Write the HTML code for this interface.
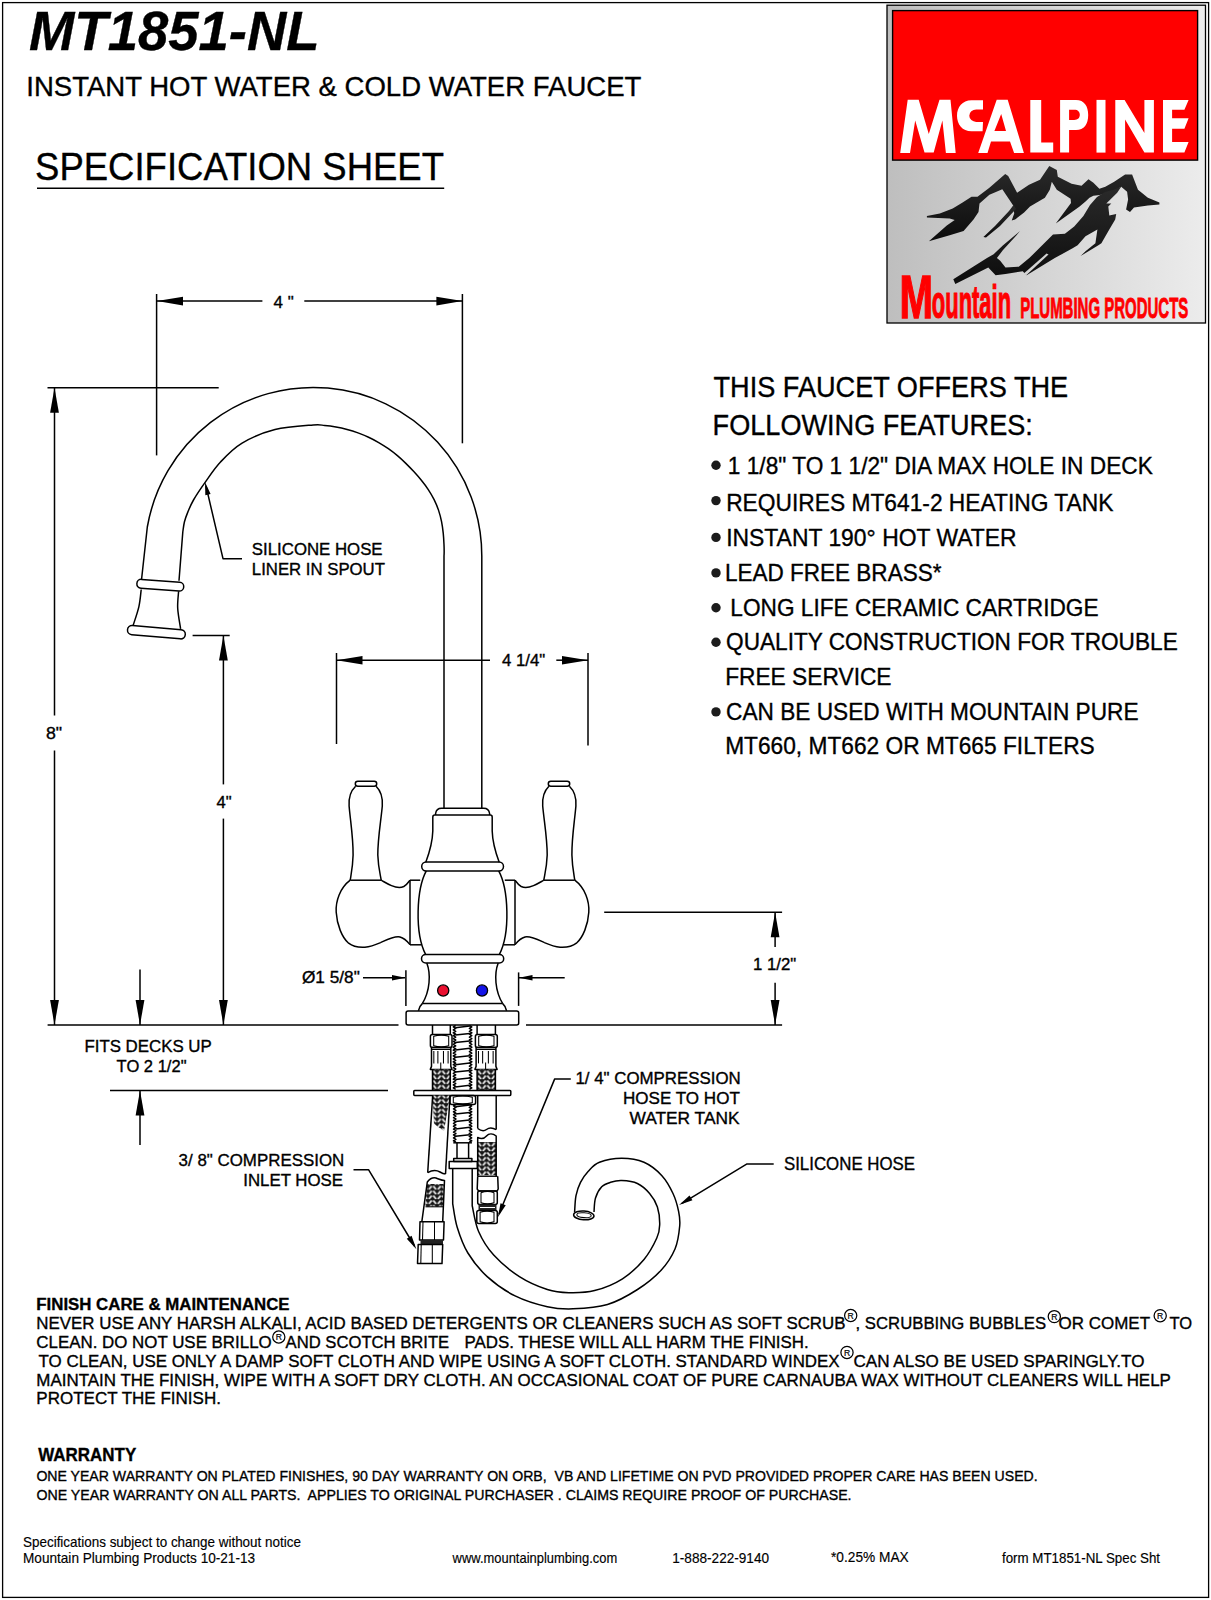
<!DOCTYPE html>
<html><head><meta charset="utf-8"><title>MT1851-NL Specification Sheet</title>
<style> html,body{margin:0;padding:0;background:#fff;width:1211px;height:1600px;overflow:hidden} svg{display:block} text{font-family:"Liberation Sans",sans-serif}</style>
</head><body>
<svg width="1211" height="1600" viewBox="0 0 1211 1600">
<defs>
<linearGradient id="lg" gradientUnits="userSpaceOnUse" x1="887" y1="0" x2="1205" y2="0"><stop offset="0" stop-color="#bebebe"/><stop offset="1" stop-color="#ececec"/></linearGradient>
<linearGradient id="mg" x1="0" y1="0" x2="0" y2="1"><stop offset="0" stop-color="#2a2a2a"/><stop offset="1" stop-color="#0c0c0c"/></linearGradient>
<pattern id="braid" patternUnits="userSpaceOnUse" width="9" height="4.8" x="0.5" y="0">
<rect width="9" height="4.8" fill="#161616"/>
<path d="M 0.8 0.5 L 3.6 3.9 M 5.4 3.9 L 8.2 0.5" stroke="#fff" stroke-width="1.65" fill="none" stroke-linecap="butt"/>
</pattern>
</defs>
<rect width="1211" height="1600" fill="#fff"/>
<rect x="2.6" y="2.6" width="1206" height="1594.8" fill="none" stroke="#000" stroke-width="1.3"/>
<line x1="37" y1="188.3" x2="444.2" y2="188.3" stroke="#000" stroke-width="1.5"/>
<rect x="887" y="5.2" width="318.5" height="317.8" fill="url(#lg)" stroke="#000" stroke-width="1.3"/>
<rect x="892.6" y="10.6" width="305" height="149.5" fill="#ff0000" stroke="#000" stroke-width="1.4"/>
<polygon fill="#fff" stroke="none" points="900.2,153 907.7,99.8 918.7,99.8 928.8,133.9 939.5,99.8 950.5,99.8 955.7,153 945.9,153 942.4,120.6 933.7,152.4 924.5,152.4 915.2,120.6 910,153"/>
<path fill="#fff" stroke="none" d="M 983 100.3 L 971.5 100.3 C 962.3 100.3 957 107.2 957 115.75 C 957 124.3 962.3 131.3 971.5 131.3 L 982.6 131.3 L 983 121.9 L 976.2 121.9 A 6.9 6.2 0 0 1 976.2 109.5 L 983 109.5 Z"/>
<path fill="#fff" stroke="none" fill-rule="evenodd" d="M 978.2,153 996.7,99.8 1007.7,99.8 1023.9,153 1014.1,153 1010,141.5 991,141.5 987.5,153 Z M 994.4,131 1006,131 1001.2,114 Z"/>
<polygon fill="#fff" stroke="none" points="1030.3,99.9 1041.2,99.9 1041.2,142.6 1053.2,142.6 1053.2,152.6 1030.3,152.6"/>
<path fill="#fff" stroke="none" fill-rule="evenodd" d="M 1060.1 99.9 L 1076 99.9 C 1084.2 99.9 1088.2 106 1088.2 115 C 1088.2 124 1084.2 130 1076 130 L 1069.1 130 L 1069.1 152.6 L 1060.1 152.6 Z M 1069.1 109.7 L 1074.2 109.7 C 1078 109.7 1079.8 111.8 1079.8 114.8 C 1079.8 117.8 1078 119.9 1074.2 119.9 L 1069.1 119.9 Z"/>
<rect fill="#fff" stroke="none" x="1096.5" y="99.9" width="9" height="52.7"/>
<polygon fill="#fff" stroke="none" points="1115.3,152.6 1115.3,99.9 1124.6,99.9 1144.4,132.9 1144.4,99.9 1153.9,99.9 1153.9,152.6 1144.4,152.6 1125.1,119.6 1125.1,152.6"/>
<polygon fill="#fff" stroke="none" points="1163,99.9 1188.6,99.9 1184.4,109.7 1172.1,109.7 1172.1,118.2 1188.6,118.2 1184.4,128.7 1172.1,128.7 1172.1,142 1188.6,142 1184.4,152.6 1163,152.6"/>
<polygon fill="url(#mg)" stroke="none" points="926.9,216 939.8,213.5 952.7,208.6 962.6,202.6 971.5,196.7 977.5,196.7 989.4,187.8 1005.2,173.9 1008.2,175.9 1017.1,192.7 1029,184.8 1040,179.8 1049.3,165.9 1056.8,169.9 1057.8,176.8 1071.6,183.8 1081.5,185.8 1088.5,179.3 1093.4,182.8 1099.4,188.7 1105.3,186.8 1114.2,181.8 1125.1,174.4 1132.1,174.4 1138,189.7 1147.9,197.7 1159.4,202.6 1159.4,204.5 1147.9,205.5 1134,207.6 1130,211.9 1126.1,209.5 1128.1,199.6 1127.1,191.7 1121.2,186.8 1113,192 1100,195 1093.4,195.7 1089.5,197.7 1085.5,201.6 1079.6,206.6 1055.8,223.4 1071,203 1070.6,198.7 1056.8,189.7 1051.8,181.8 1049.8,189.7 1044.9,197.7 1030,206.6 1024.1,212.5 1015.1,219.5 1011.7,220.5 1014.2,213.5 1013.2,205.6 1002.3,189.2 995.3,192.2 989.4,194.7 979.5,203.6 978.5,212 973.5,219.5 963.6,230.9 949.7,235.3 928.9,241.3 946.8,225.4 954.7,220 949.7,218.5 926.9,217.5"/>
<polygon fill="url(#mg)" stroke="none" points="953.3,279.3 987,258.1 993.6,254.2 1002.8,245.6 1020,231 1016.1,235.7 1002.8,250.2 996.9,258.1 1000.2,260.8 1005.5,267.4 1018.7,266.7 1029.3,258.1 1053,234.4 1064.9,233.7 1074.2,226.4 1083.4,215.9 1090,205 1097,197 1105,192 1113,190 1121.2,186.8 1117.2,192.7 1106.3,203.6 1111.3,203.6 1108.3,206.6 1109.3,215.5 1116.2,214 1115.2,219.5 1109.3,229.4 1101.4,243.2 1098.4,245.2 1080.5,256.1 1085.5,251.2 1095.4,243.2 1097.4,229.4 1085.5,236.3 1077.6,245.2 1072.6,248.2 1054.8,258.1 1026.6,275.3 1022.7,271.3 1005.5,274 995.6,275.3 988.3,267.4 955.3,283.9"/>
<polygon fill="url(#mg)" stroke="none" points="983.4,237 995,226 1009,211 1013.5,205 1016,209 1000,226 986,237.5"/>
<polygon fill="url(#lg)" stroke="none" points="1023.8,273.6 1046.5,253.6 1048.5,254.6 1026.2,275.2"/>
<g font-family="Liberation Sans, sans-serif" fill="#000" stroke="#000" stroke-width="0.35">
<text x="29" y="50" font-size="54.67" font-weight="bold" font-style="italic" textLength="290.55" lengthAdjust="spacingAndGlyphs" xml:space="preserve">MT1851-NL</text>
<text x="26.29" y="95.7" font-size="28.44" textLength="615.14" lengthAdjust="spacingAndGlyphs" xml:space="preserve">INSTANT HOT WATER &amp; COLD WATER FAUCET</text>
<text x="35.08" y="180.2" font-size="37.93" textLength="408.91" lengthAdjust="spacingAndGlyphs" xml:space="preserve">SPECIFICATION SHEET</text>
<text x="713.55" y="396.6" font-size="28.59" textLength="354.6" lengthAdjust="spacingAndGlyphs" xml:space="preserve">THIS FAUCET OFFERS THE</text>
<text x="712.6" y="435.4" font-size="28.59" textLength="320.25" lengthAdjust="spacingAndGlyphs" xml:space="preserve">FOLLOWING FEATURES:</text>
<text x="727.84" y="473.5" font-size="24.44" textLength="424.95" lengthAdjust="spacingAndGlyphs" xml:space="preserve">1 1/8&quot; TO 1 1/2&quot; DIA MAX HOLE IN DECK</text>
<text x="726.14" y="510.7" font-size="24.44" textLength="387.26" lengthAdjust="spacingAndGlyphs" xml:space="preserve">REQUIRES MT641-2 HEATING TANK</text>
<text x="726.13" y="545.8" font-size="24.44" textLength="290.48" lengthAdjust="spacingAndGlyphs" xml:space="preserve">INSTANT 190° HOT WATER</text>
<text x="724.96" y="581" font-size="24.44" textLength="216.5" lengthAdjust="spacingAndGlyphs" xml:space="preserve">LEAD FREE BRASS*</text>
<text x="730.35" y="616" font-size="24.44" textLength="368.16" lengthAdjust="spacingAndGlyphs" xml:space="preserve">LONG LIFE CERAMIC CARTRIDGE</text>
<text x="726.07" y="650.3" font-size="24.44" textLength="451.66" lengthAdjust="spacingAndGlyphs" xml:space="preserve">QUALITY CONSTRUCTION FOR TROUBLE</text>
<text x="725.14" y="685" font-size="24.44" textLength="166.42" lengthAdjust="spacingAndGlyphs" xml:space="preserve">FREE SERVICE</text>
<text x="726.07" y="720.1" font-size="24.44" textLength="412.44" lengthAdjust="spacingAndGlyphs" xml:space="preserve">CAN BE USED WITH MOUNTAIN PURE</text>
<text x="725.14" y="754.4" font-size="24.44" textLength="369.58" lengthAdjust="spacingAndGlyphs" xml:space="preserve">MT660, MT662 OR MT665 FILTERS</text>
<text x="273.6" y="307.5" font-size="17.19" textLength="20.13" lengthAdjust="spacingAndGlyphs" xml:space="preserve">4 &quot;</text>
<text x="251.89" y="554.6" font-size="16.59" textLength="130.7" lengthAdjust="spacingAndGlyphs" xml:space="preserve">SILICONE HOSE</text>
<text x="251.89" y="575.2" font-size="16.59" textLength="133.05" lengthAdjust="spacingAndGlyphs" xml:space="preserve">LINER IN SPOUT</text>
<text x="502" y="666.2" font-size="16.59" textLength="43.27" lengthAdjust="spacingAndGlyphs" xml:space="preserve">4 1/4&quot;</text>
<text x="45.93" y="738.5" font-size="16.59" textLength="16.19" lengthAdjust="spacingAndGlyphs" xml:space="preserve">8&quot;</text>
<text x="216.5" y="807.5" font-size="16.59" textLength="15.11" lengthAdjust="spacingAndGlyphs" xml:space="preserve">4&quot;</text>
<text x="301.96" y="983" font-size="16.59" textLength="57.82" lengthAdjust="spacingAndGlyphs" xml:space="preserve">Ø1 5/8&quot;</text>
<text x="753.09" y="970.4" font-size="16.59" textLength="43.18" lengthAdjust="spacingAndGlyphs" xml:space="preserve">1 1/2&quot;</text>
<text x="84.41" y="1052" font-size="17.04" textLength="127.39" lengthAdjust="spacingAndGlyphs" xml:space="preserve">FITS DECKS UP</text>
<text x="116.6" y="1072.1" font-size="17.04" textLength="69.92" lengthAdjust="spacingAndGlyphs" xml:space="preserve">TO 2 1/2&quot;</text>
<text x="575.48" y="1084.4" font-size="16.59" textLength="165.24" lengthAdjust="spacingAndGlyphs" xml:space="preserve">1/ 4&quot; COMPRESSION</text>
<text x="622.97" y="1104.2" font-size="16.59" textLength="116.87" lengthAdjust="spacingAndGlyphs" xml:space="preserve">HOSE TO HOT</text>
<text x="629.5" y="1124" font-size="16.59" textLength="110.03" lengthAdjust="spacingAndGlyphs" xml:space="preserve">WATER TANK</text>
<text x="178.62" y="1166.1" font-size="17.19" textLength="165.63" lengthAdjust="spacingAndGlyphs" xml:space="preserve">3/ 8&quot; COMPRESSION</text>
<text x="243.28" y="1186.2" font-size="16.59" textLength="99.8" lengthAdjust="spacingAndGlyphs" xml:space="preserve">INLET HOSE</text>
<text x="783.94" y="1170.1" font-size="17.48" textLength="131.14" lengthAdjust="spacingAndGlyphs" xml:space="preserve">SILICONE HOSE</text>
<text x="36.32" y="1309.8" font-size="17.19" font-weight="bold" textLength="253.24" lengthAdjust="spacingAndGlyphs" xml:space="preserve">FINISH CARE &amp; MAINTENANCE</text>
<text x="38.3" y="1460.7" font-size="17.63" font-weight="bold" textLength="97.92" lengthAdjust="spacingAndGlyphs" xml:space="preserve">WARRANTY</text>
<text x="36.38" y="1480.5" font-size="15.41" textLength="1001.28" lengthAdjust="spacingAndGlyphs" xml:space="preserve">ONE YEAR WARRANTY ON PLATED FINISHES, 90 DAY WARRANTY ON ORB,  VB AND LIFETIME ON PVD PROVIDED PROPER CARE HAS BEEN USED.</text>
<text x="36.38" y="1500.4" font-size="15.41" textLength="815.16" lengthAdjust="spacingAndGlyphs" xml:space="preserve">ONE YEAR WARRANTY ON ALL PARTS.  APPLIES TO ORIGINAL PURCHASER . CLAIMS REQUIRE PROOF OF PURCHASE.</text>
<text x="23.03" y="1547" font-size="13.93" stroke-width="0.15" textLength="277.87" lengthAdjust="spacingAndGlyphs" xml:space="preserve">Specifications subject to change without notice</text>
<text x="23.02" y="1562.8" font-size="13.93" stroke-width="0.15" textLength="232.06" lengthAdjust="spacingAndGlyphs" xml:space="preserve">Mountain Plumbing Products 10-21-13</text>
<text x="452.6" y="1563" font-size="13.93" stroke-width="0.15" textLength="164.62" lengthAdjust="spacingAndGlyphs" xml:space="preserve">www.mountainplumbing.com</text>
<text x="672.22" y="1563" font-size="13.93" stroke-width="0.15" textLength="96.85" lengthAdjust="spacingAndGlyphs" xml:space="preserve">1-888-222-9140</text>
<text x="831.02" y="1561.8" font-size="13.93" stroke-width="0.15" textLength="77.72" lengthAdjust="spacingAndGlyphs" xml:space="preserve">*0.25% MAX</text>
<text x="1002" y="1563" font-size="13.93" stroke-width="0.15" textLength="158.07" lengthAdjust="spacingAndGlyphs" xml:space="preserve">form MT1851-NL Spec Sht</text>
<text x="899.59" y="318.2" font-size="61.48" font-weight="bold" textLength="33.47" lengthAdjust="spacingAndGlyphs" xml:space="preserve" fill="#f00" stroke="#f00" stroke-width="1.4">M</text>
<text x="931.85" y="318.2" font-size="46.22" font-weight="bold" textLength="79.21" lengthAdjust="spacingAndGlyphs" xml:space="preserve" fill="#f00" stroke="#f00" stroke-width="1.2">ountain</text>
<text x="1020.18" y="318.2" font-size="29.33" font-weight="bold" textLength="168.1" lengthAdjust="spacingAndGlyphs" xml:space="preserve" fill="#f00" stroke="#f00" stroke-width="0.9">PLUMBING PRODUCTS</text>
<text x="36.32" y="1328.9" font-size="17.19" textLength="809.21" lengthAdjust="spacingAndGlyphs" xml:space="preserve">NEVER USE ANY HARSH ALKALI, ACID BASED DETERGENTS OR CLEANERS SUCH AS SOFT SCRUB</text>
<text x="855.55" y="1328.9" font-size="17.19" textLength="190.54" lengthAdjust="spacingAndGlyphs" xml:space="preserve">, SCRUBBING BUBBLES</text>
<text x="1058.61" y="1328.9" font-size="17.19" textLength="91.4" lengthAdjust="spacingAndGlyphs" xml:space="preserve">OR COMET</text>
<text x="1169.5" y="1328.9" font-size="17.19" textLength="22.64" lengthAdjust="spacingAndGlyphs" xml:space="preserve">TO</text>
<text x="36.32" y="1347.7" font-size="17.19" textLength="235.4" lengthAdjust="spacingAndGlyphs" xml:space="preserve">CLEAN. DO NOT USE BRILLO</text>
<text x="285.6" y="1347.7" font-size="17.19" textLength="163.6" lengthAdjust="spacingAndGlyphs" xml:space="preserve">AND SCOTCH BRITE</text>
<text x="464.52" y="1347.7" font-size="17.19" textLength="344.17" lengthAdjust="spacingAndGlyphs" xml:space="preserve">PADS. THESE WILL ALL HARM THE FINISH.</text>
<text x="38.6" y="1366.8" font-size="17.19" textLength="801.04" lengthAdjust="spacingAndGlyphs" xml:space="preserve">TO CLEAN, USE ONLY A DAMP SOFT CLOTH AND WIPE USING A SOFT CLOTH. STANDARD WINDEX</text>
<text x="853.41" y="1366.8" font-size="17.19" textLength="291.02" lengthAdjust="spacingAndGlyphs" xml:space="preserve">CAN ALSO BE USED SPARINGLY.TO</text>
<text x="36.31" y="1385.6" font-size="17.19" textLength="1134.59" lengthAdjust="spacingAndGlyphs" xml:space="preserve">MAINTAIN THE FINISH, WIPE WITH A SOFT DRY CLOTH. AN OCCASIONAL COAT OF PURE CARNAUBA WAX WITHOUT CLEANERS WILL HELP</text>
<text x="36.31" y="1404.4" font-size="17.19" textLength="184.62" lengthAdjust="spacingAndGlyphs" xml:space="preserve">PROTECT THE FINISH.</text>
</g>
<circle cx="716" cy="465.3" r="4.7" fill="#1c1c1c"/>
<circle cx="716" cy="500.6" r="4.7" fill="#1c1c1c"/>
<circle cx="716" cy="537.4" r="4.7" fill="#1c1c1c"/>
<circle cx="716" cy="572.9" r="4.7" fill="#1c1c1c"/>
<circle cx="716" cy="607.8" r="4.7" fill="#1c1c1c"/>
<circle cx="716" cy="642.2" r="4.7" fill="#1c1c1c"/>
<circle cx="716" cy="711.9" r="4.7" fill="#1c1c1c"/>
<circle cx="850.7" cy="1315.5" r="6.1" fill="none" stroke="#000" stroke-width="1.25"/><text x="850.7" y="1318.6" font-size="8.6" text-anchor="middle" font-family="Liberation Sans, sans-serif" stroke="#000" stroke-width="0.2">R</text>
<circle cx="1054.3" cy="1316.6" r="6.1" fill="none" stroke="#000" stroke-width="1.25"/><text x="1054.3" y="1319.6999999999998" font-size="8.6" text-anchor="middle" font-family="Liberation Sans, sans-serif" stroke="#000" stroke-width="0.2">R</text>
<circle cx="1160.2" cy="1315.7" r="6.1" fill="none" stroke="#000" stroke-width="1.25"/><text x="1160.2" y="1318.8" font-size="8.6" text-anchor="middle" font-family="Liberation Sans, sans-serif" stroke="#000" stroke-width="0.2">R</text>
<circle cx="278.8" cy="1337" r="6.1" fill="none" stroke="#000" stroke-width="1.25"/><text x="278.8" y="1340.1" font-size="8.6" text-anchor="middle" font-family="Liberation Sans, sans-serif" stroke="#000" stroke-width="0.2">R</text>
<circle cx="847" cy="1352.4" r="6.1" fill="none" stroke="#000" stroke-width="1.25"/><text x="847" y="1355.5" font-size="8.6" text-anchor="middle" font-family="Liberation Sans, sans-serif" stroke="#000" stroke-width="0.2">R</text>
<g fill="none" stroke="#000" stroke-width="1.5" stroke-linejoin="round" stroke-linecap="butt">
<style>.f{fill:#000;stroke:none} .thin{stroke-width:1.05} .th{stroke-width:1.1} .wl{stroke:#fff;stroke-width:1}</style>
<line x1="156.6" y1="294" x2="156.6" y2="455.4"/>
<line x1="462.4" y1="294" x2="462.4" y2="443.3"/>
<line x1="157" y1="301.1" x2="262.4" y2="301.1"/>
<line x1="304.3" y1="301.1" x2="462.4" y2="301.1"/>
<polygon class="f" points="157,301.1 183,296.8 183,305.4"/>
<polygon class="f" points="462.4,301.1 436.4,305.4 436.4,296.8"/>
<line x1="47.5" y1="387.8" x2="218.7" y2="387.8"/>
<line x1="54.5" y1="387.8" x2="54.5" y2="715.4"/>
<line x1="54.5" y1="750.5" x2="54.5" y2="1025"/>
<polygon class="f" points="54.5,387.8 58.9,412.8 50.1,412.8"/>
<polygon class="f" points="54.5,1025 50.1,1000 58.9,1000"/>
<line x1="47.6" y1="1025" x2="398.5" y2="1025"/>
<line x1="526" y1="1025" x2="782.1" y2="1025"/>
<line x1="192.6" y1="635.5" x2="229.7" y2="635.5"/>
<line x1="223.4" y1="635.5" x2="223.4" y2="784.4"/>
<line x1="223.4" y1="818.6" x2="223.4" y2="1025"/>
<polygon class="f" points="223.4,635.5 227.8,660.5 219,660.5"/>
<polygon class="f" points="223.4,1025 219,1000 227.8,1000"/>
<line x1="140" y1="969.5" x2="140" y2="1025"/>
<polygon class="f" points="140,1025 135.6,1000 144.4,1000"/>
<line x1="110" y1="1090.4" x2="388" y2="1090.4"/>
<line x1="140" y1="1090.4" x2="140" y2="1145"/>
<polygon class="f" points="140,1090.4 144.4,1115.4 135.6,1115.4"/>
<line x1="336.5" y1="653" x2="336.5" y2="744"/>
<line x1="588" y1="653" x2="588" y2="745.5"/>
<line x1="336.5" y1="660.2" x2="490" y2="660.2"/>
<line x1="556.3" y1="660.2" x2="588" y2="660.2"/>
<polygon class="f" points="336.5,660.2 362.5,655.9 362.5,664.5"/>
<polygon class="f" points="588,660.2 562,664.5 562,655.9"/>
<line x1="604.2" y1="912.2" x2="782.1" y2="912.2"/>
<line x1="775.1" y1="912.2" x2="775.1" y2="946.9"/>
<line x1="775.1" y1="982.8" x2="775.1" y2="1024.9"/>
<polygon class="f" points="775.1,912.2 779.5,937.2 770.7,937.2"/>
<polygon class="f" points="775.1,1024.9 770.7,999.9 779.5,999.9"/>
<line x1="363" y1="977.7" x2="405" y2="977.7"/>
<polygon class="f" points="405.5,977.7 392,980.5 392,974.9"/>
<line x1="405.9" y1="970.2" x2="405.9" y2="1005.9"/>
<line x1="518.6" y1="972.4" x2="518.6" y2="1005.9"/>
<line x1="519" y1="977.7" x2="564.7" y2="977.7"/>
<polygon class="f" points="519,977.7 532.5,974.9 532.5,980.5"/>
<polyline points="242,558.7 223,558.7 206,486"/>
<polygon class="f" points="205,482 210.6,494.04 205.34,495.27"/>
<polyline points="570.8,1078.9 554.7,1078.9 499,1214"/>
<polygon class="f" points="497.8,1217.2 500.55,1203.19 505.72,1205.32"/>
<polyline points="353.5,1169.7 368.5,1169.7 414.5,1246"/>
<polygon class="f" points="416.4,1249.3 406.78,1238.75 411.58,1235.86"/>
<polyline points="773.7,1163.9 747,1163.9 682,1203.3"/>
<polygon class="f" points="679,1205.1 689.52,1195.45 692.42,1200.24"/>
<path d="M 141.6 579 L 147.31 527 A 168.5 168.5 0 0 1 481.8 556.0 L 481.8 808.3"/>
<path d="M 444 808.3 L 444 556 C 444.17 554.09 444.15 548.38 443.99 544.56 C 443.83 540.74 443.63 536.9 443.23 533.07 C 442.82 529.25 442.32 525.39 441.55 521.61 C 440.77 517.82 439.82 514.03 438.58 510.37 C 437.34 506.7 435.84 503.08 434.12 499.61 C 432.41 496.15 430.4 492.79 428.27 489.56 C 426.15 486.34 423.77 483.26 421.36 480.27 C 418.94 477.28 416.36 474.42 413.78 471.61 C 411.19 468.79 408.56 466.03 405.83 463.37 C 403.1 460.71 400.32 458.09 397.41 455.65 C 394.49 453.2 391.46 450.87 388.34 448.69 C 385.22 446.51 382 444.45 378.7 442.55 C 375.4 440.65 372.01 438.88 368.56 437.27 C 365.11 435.67 361.58 434.2 358 432.9 C 354.43 431.6 350.78 430.45 347.11 429.46 C 343.43 428.48 339.7 427.65 335.95 426.99 C 332.2 426.33 328.41 425.83 324.62 425.5 C 320.83 425.17 321.47 424.32 313.2 425 C 304.93 425.68 286.85 426.58 275 429.6 C 263.15 432.62 251.18 437.7 242.1 443.1 C 233.02 448.5 226.67 455.45 220.5 462 C 214.33 468.55 209.6 476.07 205.1 482.4 C 200.6 488.73 196.38 495.05 193.5 500 C 190.62 504.95 189.32 508.43 187.8 512.1 C 186.28 515.77 185.23 518.68 184.4 522 C 183.57 525.32 183.07 530.33 182.8 532 L 179 580.7"/>
<rect x="-23.5" y="-4.4" width="47" height="8.8" rx="4.4" transform="translate(160.3 585.2) rotate(4.3)"/>
<path d="M 141.2 589.5 C 140.82 592.35 140.25 600.6 138.9 606.6 C 137.55 612.6 134.07 622.35 133.1 625.5"/>
<path d="M 178.6 591.3 C 178.45 594.13 177.37 602.05 177.7 608.3 C 178.03 614.55 180.12 625.38 180.6 628.8"/>
<rect x="-29" y="-4.6" width="58" height="9.2" rx="4.6" transform="translate(156.4 632.2) rotate(4.9)"/>
<rect x="355.3" y="781.2" width="21.4" height="5" rx="2.5"/>
<path d="M 355.6 786.2 C 349.5 792 348.6 799 349.1 806 C 350.5 822 353.3 838 353.1 855 C 352.8 867 351.2 874 350.2 880.2"/>
<path d="M 376.1 786.2 C 382 792 382.8 799 382.3 806 C 380.8 822 377.8 838 377.8 855 C 378.2 867 380.2 874 381.2 880.2"/>
<line x1="350.2" y1="880.2" x2="381.2" y2="880.2"/>
<path d="M 350.2 880.2 C 340 888 335.5 901 336.2 912.2 C 337 925 342 937.5 348.6 943.2 C 354 947.5 359.5 947.5 364.9 947.2 C 371 946.7 375.5 944.8 380.6 942.6 C 388 939.2 394.5 935.8 400 937 C 404 938 407.5 941.5 410 944.6"/>
<path d="M 381.2 880.2 C 384.5 882 387.5 884 391.5 885.6 C 396 887.5 400.5 888 403.8 886.5 C 406.5 885 408.3 882.6 410 880.3"/>
<line x1="410" y1="880.2" x2="410" y2="944.8"/>
<line x1="410" y1="880.2" x2="420.2" y2="880.2"/>
<line x1="410" y1="944.8" x2="421.5" y2="944.8"/>
<g transform="translate(925 0) scale(-1 1)"><rect x="355.3" y="781.2" width="21.4" height="5" rx="2.5"/>
<path d="M 355.6 786.2 C 349.5 792 348.6 799 349.1 806 C 350.5 822 353.3 838 353.1 855 C 352.8 867 351.2 874 350.2 880.2"/>
<path d="M 376.1 786.2 C 382 792 382.8 799 382.3 806 C 380.8 822 377.8 838 377.8 855 C 378.2 867 380.2 874 381.2 880.2"/>
<line x1="350.2" y1="880.2" x2="381.2" y2="880.2"/>
<path d="M 350.2 880.2 C 340 888 335.5 901 336.2 912.2 C 337 925 342 937.5 348.6 943.2 C 354 947.5 359.5 947.5 364.9 947.2 C 371 946.7 375.5 944.8 380.6 942.6 C 388 939.2 394.5 935.8 400 937 C 404 938 407.5 941.5 410 944.6"/>
<path d="M 381.2 880.2 C 384.5 882 387.5 884 391.5 885.6 C 396 887.5 400.5 888 403.8 886.5 C 406.5 885 408.3 882.6 410 880.3"/>
<line x1="410" y1="880.2" x2="410" y2="944.8"/>
<line x1="410" y1="880.2" x2="420.2" y2="880.2"/>
<line x1="410" y1="944.8" x2="421.5" y2="944.8"/></g>
<path d="M 435.6 815.1 L 435.6 813.5 Q 436.4 808.3 441.5 808.3 L 483.7 808.3 Q 488.8 808.3 489.6 813.5 L 489.6 815.1"/>
<path d="M 432.8 831 L 432.8 817.2 Q 432.8 815.1 434.8 815.1 L 490.2 815.1 Q 492.2 815.1 492.2 817.2 L 492.2 831"/>
<path d="M 432.8 831 C 432.5 843 428.5 855 425.8 862.3"/>
<path d="M 492.2 831 C 492.5 843 496.5 855 499.2 862.3"/>
<rect x="421.7" y="862.1" width="81.8" height="8.8" rx="4.4"/>
<path d="M 426.3 870.9 C 416.5 889 414.5 933 425.7 954.6"/>
<path d="M 498.7 870.9 C 508.5 889 510.5 933 499.3 954.6"/>
<rect x="421.5" y="954.6" width="82.2" height="8.4" rx="4.2"/>
<path d="M 426.8 963 C 431 974 430 991 422.3 1003.6"/>
<path d="M 498.2 963 C 494 974 495 991 502.7 1003.6"/>
<line x1="422.3" y1="1003.6" x2="502.7" y2="1003.6"/>
<path d="M 422.3 1003.6 Q 419 1006.5 418.4 1010.9"/>
<path d="M 502.7 1003.6 Q 506 1006.5 506.6 1010.9"/>
<rect x="406.1" y="1010.9" width="112.6" height="14" rx="2"/>
<circle cx="443.2" cy="990.5" r="5.6" fill="#ea1030" stroke-width="1.3"/>
<circle cx="482" cy="990.5" r="5.6" fill="#1414e8" stroke-width="1.3"/>
<line x1="432.5" y1="1025" x2="432.5" y2="1034.5"/>
<line x1="450.3" y1="1025" x2="450.3" y2="1034.5"/>
<rect x="430.4" y="1034.5" width="21.6" height="13" rx="2"/>
<line x1="433.7" y1="1036" x2="433.7" y2="1046" class="thin"/>
<line x1="448.7" y1="1036" x2="448.7" y2="1046" class="thin"/>
<path class="thin" d="M 433.7 1036.3 Q 441.2 1034 448.7 1036.3 M 433.7 1045.7 Q 441.2 1048 448.7 1045.7"/>
<path d="M 431.5 1047.5 L 431.5 1066.4 L 430.3 1069.4 L 452 1069.4 L 450.8 1066.4 L 450.8 1047.5 Z"/>
<line x1="431.5" y1="1049.5" x2="450.8" y2="1049.5" class="thin"/>
<line x1="433.82" y1="1051" x2="433.82" y2="1063.4" class="thin"/>
<line x1="437.87" y1="1051" x2="437.87" y2="1063.4" class="thin"/>
<line x1="443.47" y1="1051" x2="443.47" y2="1063.4" class="thin"/>
<line x1="448.1" y1="1051" x2="448.1" y2="1063.4" class="thin"/>
<line x1="440.76" y1="1062.4" x2="440.76" y2="1068.9" class="thin"/>
<rect x="432.5" y="1069.4" width="17.8" height="20.8" fill="url(#braid)" stroke="none"/><line x1="432.5" y1="1069.4" x2="432.5" y2="1090.2"/><line x1="450.3" y1="1069.4" x2="450.3" y2="1090.2"/>
<line x1="477.1" y1="1025" x2="477.1" y2="1034.5"/>
<line x1="495.4" y1="1025" x2="495.4" y2="1034.5"/>
<rect x="475.4" y="1034.5" width="21.9" height="13" rx="2"/>
<line x1="478.7" y1="1036" x2="478.7" y2="1046" class="thin"/>
<line x1="494" y1="1036" x2="494" y2="1046" class="thin"/>
<path class="thin" d="M 478.7 1036.3 Q 486.35 1034 494 1036.3 M 478.7 1045.7 Q 486.35 1048 494 1045.7"/>
<path d="M 476.1 1047.5 L 476.1 1066.4 L 474.9 1069.4 L 497.1 1069.4 L 495.9 1066.4 L 495.9 1047.5 Z"/>
<line x1="476.1" y1="1049.5" x2="495.9" y2="1049.5" class="thin"/>
<line x1="478.48" y1="1051" x2="478.48" y2="1063.4" class="thin"/>
<line x1="482.63" y1="1051" x2="482.63" y2="1063.4" class="thin"/>
<line x1="488.38" y1="1051" x2="488.38" y2="1063.4" class="thin"/>
<line x1="493.13" y1="1051" x2="493.13" y2="1063.4" class="thin"/>
<line x1="485.6" y1="1062.4" x2="485.6" y2="1068.9" class="thin"/>
<rect x="477.1" y="1069.4" width="18.3" height="20.8" fill="url(#braid)" stroke="none"/><line x1="477.1" y1="1069.4" x2="477.1" y2="1090.2"/><line x1="495.4" y1="1069.4" x2="495.4" y2="1090.2"/>
<polyline points="455.7,1025.5 453.3,1026.95 455.7,1028.4 453.3,1029.85 455.7,1031.3 453.3,1032.75 455.7,1034.2 453.3,1035.65 455.7,1037.1 453.3,1038.55 455.7,1040 453.3,1041.45 455.7,1042.9 453.3,1044.35 455.7,1045.8 453.3,1047.25 455.7,1048.7 453.3,1050.15 455.7,1051.6 453.3,1053.05 455.7,1054.5 453.3,1055.95 455.7,1057.4 453.3,1058.85 455.7,1060.3 453.3,1061.75 455.7,1063.2 453.3,1064.65 455.7,1066.1 453.3,1067.55 455.7,1069 453.3,1070.45 455.7,1071.9 453.3,1073.35 455.7,1074.8 453.3,1076.25 455.7,1077.7 453.3,1079.15 455.7,1080.6 453.3,1082.05 455.7,1083.5 453.3,1084.95 455.7,1086.4 453.3,1087.85 455.7,1089.3"/>
<polyline points="469.4,1025.5 471.8,1026.95 469.4,1028.4 471.8,1029.85 469.4,1031.3 471.8,1032.75 469.4,1034.2 471.8,1035.65 469.4,1037.1 471.8,1038.55 469.4,1040 471.8,1041.45 469.4,1042.9 471.8,1044.35 469.4,1045.8 471.8,1047.25 469.4,1048.7 471.8,1050.15 469.4,1051.6 471.8,1053.05 469.4,1054.5 471.8,1055.95 469.4,1057.4 471.8,1058.85 469.4,1060.3 471.8,1061.75 469.4,1063.2 471.8,1064.65 469.4,1066.1 471.8,1067.55 469.4,1069 471.8,1070.45 469.4,1071.9 471.8,1073.35 469.4,1074.8 471.8,1076.25 469.4,1077.7 471.8,1079.15 469.4,1080.6 471.8,1082.05 469.4,1083.5 471.8,1084.95 469.4,1086.4 471.8,1087.85 469.4,1089.3"/>
<line x1="455.3" y1="1027.72" x2="469.8" y2="1026.12"/>
<line x1="455.3" y1="1035.12" x2="469.8" y2="1033.52"/>
<line x1="455.3" y1="1042.52" x2="469.8" y2="1040.92"/>
<line x1="455.3" y1="1049.92" x2="469.8" y2="1048.32"/>
<line x1="455.3" y1="1057.32" x2="469.8" y2="1055.72"/>
<line x1="455.3" y1="1064.72" x2="469.8" y2="1063.12"/>
<line x1="455.3" y1="1072.12" x2="469.8" y2="1070.52"/>
<line x1="455.3" y1="1079.52" x2="469.8" y2="1077.92"/>
<line x1="455.3" y1="1086.92" x2="469.8" y2="1085.32"/>
<rect x="413.8" y="1090.4" width="97" height="5" rx="0.8"/>
<polygon points="432.7,1095.4 450,1095.4 444,1131 434,1124" fill="url(#braid)" stroke="none"/>
<line x1="432.7" y1="1095.4" x2="427.7" y2="1172.6"/>
<line x1="450" y1="1095.4" x2="445.5" y2="1174"/>
<path d="M 427.7 1172.6 C 432 1170 436 1169.5 440 1172 C 442 1173.3 444 1174 445.5 1174"/>
<polygon points="427,1184 444.2,1184 443,1206.8 425.2,1206.8" fill="url(#braid)" stroke="none"/>
<path d="M 421.8 1221.8 L 427.3 1182 C 430 1178.5 433 1177.3 436 1178 C 439 1179 441.5 1180.5 444.5 1180.5 L 442.7 1221.8"/>
<line x1="425.5" y1="1206.8" x2="443.2" y2="1206.8" class="thin"/>
<polygon points="420,1221.8 444.1,1221.8 443.5,1240 419.5,1240"/>
<line x1="434.5" y1="1222" x2="434.5" y2="1240" class="thin"/>
<line x1="423" y1="1222" x2="422.5" y2="1240" class="thin"/>
<rect x="420.5" y="1240" width="22.5" height="4.5" fill="#222" stroke="none"/>
<polygon points="418.2,1244.5 442.7,1244.5 442,1263.6 417.5,1263.6"/>
<line x1="432.3" y1="1245" x2="432.3" y2="1263.3" class="thin"/>
<line x1="421.2" y1="1245" x2="420.8" y2="1263.3" class="thin"/>
<rect x="450" y="1095.4" width="25.6" height="9.1" rx="2"/>
<line x1="453.3" y1="1096.9" x2="453.3" y2="1103" class="thin"/>
<line x1="472.3" y1="1096.9" x2="472.3" y2="1103" class="thin"/>
<path class="thin" d="M 453.3 1097.2 Q 462.8 1094.9 472.3 1097.2 M 453.3 1102.7 Q 462.8 1105 472.3 1102.7"/>
<polyline points="455.9,1104.5 453.5,1105.95 455.9,1107.4 453.5,1108.85 455.9,1110.3 453.5,1111.75 455.9,1113.2 453.5,1114.65 455.9,1116.1 453.5,1117.55 455.9,1119 453.5,1120.45 455.9,1121.9 453.5,1123.35 455.9,1124.8 453.5,1126.25 455.9,1127.7 453.5,1129.15 455.9,1130.6 453.5,1132.05 455.9,1133.5 453.5,1134.95 455.9,1136.4 453.5,1137.85 455.9,1139.3 453.5,1140.75 455.9,1142.2"/>
<polyline points="469.3,1104.5 471.7,1105.95 469.3,1107.4 471.7,1108.85 469.3,1110.3 471.7,1111.75 469.3,1113.2 471.7,1114.65 469.3,1116.1 471.7,1117.55 469.3,1119 471.7,1120.45 469.3,1121.9 471.7,1123.35 469.3,1124.8 471.7,1126.25 469.3,1127.7 471.7,1129.15 469.3,1130.6 471.7,1132.05 469.3,1133.5 471.7,1134.95 469.3,1136.4 471.7,1137.85 469.3,1139.3 471.7,1140.75 469.3,1142.2"/>
<line x1="455.5" y1="1106.72" x2="469.7" y2="1105.12"/>
<line x1="455.5" y1="1114.12" x2="469.7" y2="1112.52"/>
<line x1="455.5" y1="1121.52" x2="469.7" y2="1119.92"/>
<line x1="455.5" y1="1128.92" x2="469.7" y2="1127.32"/>
<line x1="455.5" y1="1136.32" x2="469.7" y2="1134.72"/>
<line x1="453.3" y1="1142.8" x2="471.9" y2="1142.8"/>
<line x1="457" y1="1142.8" x2="457" y2="1158.5"/>
<line x1="468.6" y1="1142.8" x2="468.6" y2="1158.5"/>
<rect x="453.7" y="1158.5" width="18.2" height="2.9"/>
<rect x="449.2" y="1161.4" width="28.1" height="7" />
<line x1="477.7" y1="1095.4" x2="477.7" y2="1128.5"/>
<line x1="496.2" y1="1095.4" x2="496.2" y2="1129.6"/>
<path d="M 477.7 1128.5 C 481 1131 484 1131.5 486.5 1129.5 C 489 1127.5 493 1127.8 496.2 1129.6"/>
<polygon points="477.7,1142 496.2,1142 496.2,1175.5 477.7,1175.5" fill="url(#braid)" stroke="none"/>
<path d="M 477.7 1176.4 L 477.7 1137.5 C 481 1139 484 1139 486.5 1136 C 489 1133 493 1133.5 496.2 1136 L 496.2 1176.4"/>
<line x1="477.7" y1="1176.4" x2="497.7" y2="1176.4" class="thin"/>
<path d="M 477.7 1176.4 L 477.2 1189 L 478.5 1190.9 L 497.2 1190.9 L 498.2 1189 L 497.7 1176.4"/>
<rect x="477.7" y="1190.9" width="19.6" height="13.6" rx="2"/>
<line x1="481" y1="1192.4" x2="481" y2="1203" class="thin"/>
<line x1="494" y1="1192.4" x2="494" y2="1203" class="thin"/>
<path class="thin" d="M 481 1192.7 Q 487.5 1190.4 494 1192.7 M 481 1202.7 Q 487.5 1205 494 1202.7"/>
<rect x="478.5" y="1204.5" width="18" height="6" fill="#222" stroke="none"/>
<line x1="480" y1="1207.5" x2="495" y2="1207.5" class="wl"/>
<rect x="476.8" y="1210.5" width="20.5" height="13.1" rx="2"/>
<line x1="480.1" y1="1212" x2="480.1" y2="1222.1" class="thin"/>
<line x1="494" y1="1212" x2="494" y2="1222.1" class="thin"/>
<path class="thin" d="M 480.1 1212.3 Q 487.05 1210 494 1212.3 M 480.1 1221.8 Q 487.05 1224.1 494 1221.8"/>
<path d="M 452.7 1168.4 L 452.7 1203.6 C 453.45 1207.53 454.67 1218.97 457.2 1227.2 C 459.73 1235.43 462.9 1244.77 467.9 1253 C 472.9 1261.23 479.33 1269.45 487.2 1276.6 C 495.07 1283.75 505.08 1290.88 515.1 1295.9 C 525.12 1300.92 537.63 1304.55 547.3 1306.7 C 556.97 1308.85 563.07 1309.17 573.1 1308.8 C 583.13 1308.43 596.77 1307.72 607.5 1304.5 C 618.23 1301.28 628.57 1295.22 637.5 1289.5 C 646.43 1283.78 654.83 1277 661.1 1270.2 C 667.37 1263.4 672 1256.07 675.1 1248.7 C 678.2 1241.33 679.12 1232.23 679.7 1226 C 680.28 1219.77 679.72 1216.72 678.6 1211.3 C 677.48 1205.88 675.78 1199.43 673 1193.5 C 670.22 1187.57 666.73 1180.9 661.9 1175.7 C 657.07 1170.5 650.7 1165.2 644 1162.3 C 637.3 1159.4 629.12 1158.3 621.7 1158.3 C 614.28 1158.3 605.07 1160.15 599.5 1162.3 C 593.93 1164.45 591.47 1167.85 588.3 1171.2 C 585.13 1174.55 582.55 1178.32 580.5 1182.4 C 578.45 1186.48 576.98 1190.77 576 1195.7 C 575.02 1200.63 574.83 1209.28 574.6 1212"/>
<path d="M 472.2 1168.4 L 472.2 1205.8 C 473.27 1210.08 475.02 1223.28 478.6 1231.5 C 482.18 1239.72 486.9 1247.58 493.7 1255.1 C 500.5 1262.62 510.47 1270.87 519.4 1276.6 C 528.33 1282.33 539.07 1286.82 547.3 1289.5 C 555.53 1292.18 560.92 1292.52 568.8 1292.7 C 576.68 1292.88 585.65 1292.92 594.6 1290.6 C 603.55 1288.28 614.27 1284 622.5 1278.8 C 630.73 1273.6 638.28 1266.2 644 1259.4 C 649.72 1252.6 654.18 1243.78 656.8 1238 C 659.42 1232.22 659.6 1229.88 659.7 1224.7 C 659.8 1219.52 659.08 1212.1 657.4 1206.9 C 655.72 1201.7 652.93 1197.4 649.6 1193.5 C 646.27 1189.6 642.05 1185.65 637.4 1183.5 C 632.75 1181.35 626.17 1180.8 621.7 1180.6 C 617.23 1180.4 613.93 1181.27 610.6 1182.3 C 607.27 1183.33 604.22 1184.18 601.7 1186.8 C 599.18 1189.42 596.78 1193.8 595.5 1198 C 594.22 1202.2 594.25 1209.67 594 1212"/>
<ellipse cx="583.8" cy="1215.4" rx="10.2" ry="4.4" transform="rotate(4 583.8 1215.4)" fill="#fff"/>
<ellipse cx="584" cy="1215.2" rx="7.2" ry="2.4" transform="rotate(4 583.8 1215.4)" class="thin"/>
</g>
</svg>
</body></html>
